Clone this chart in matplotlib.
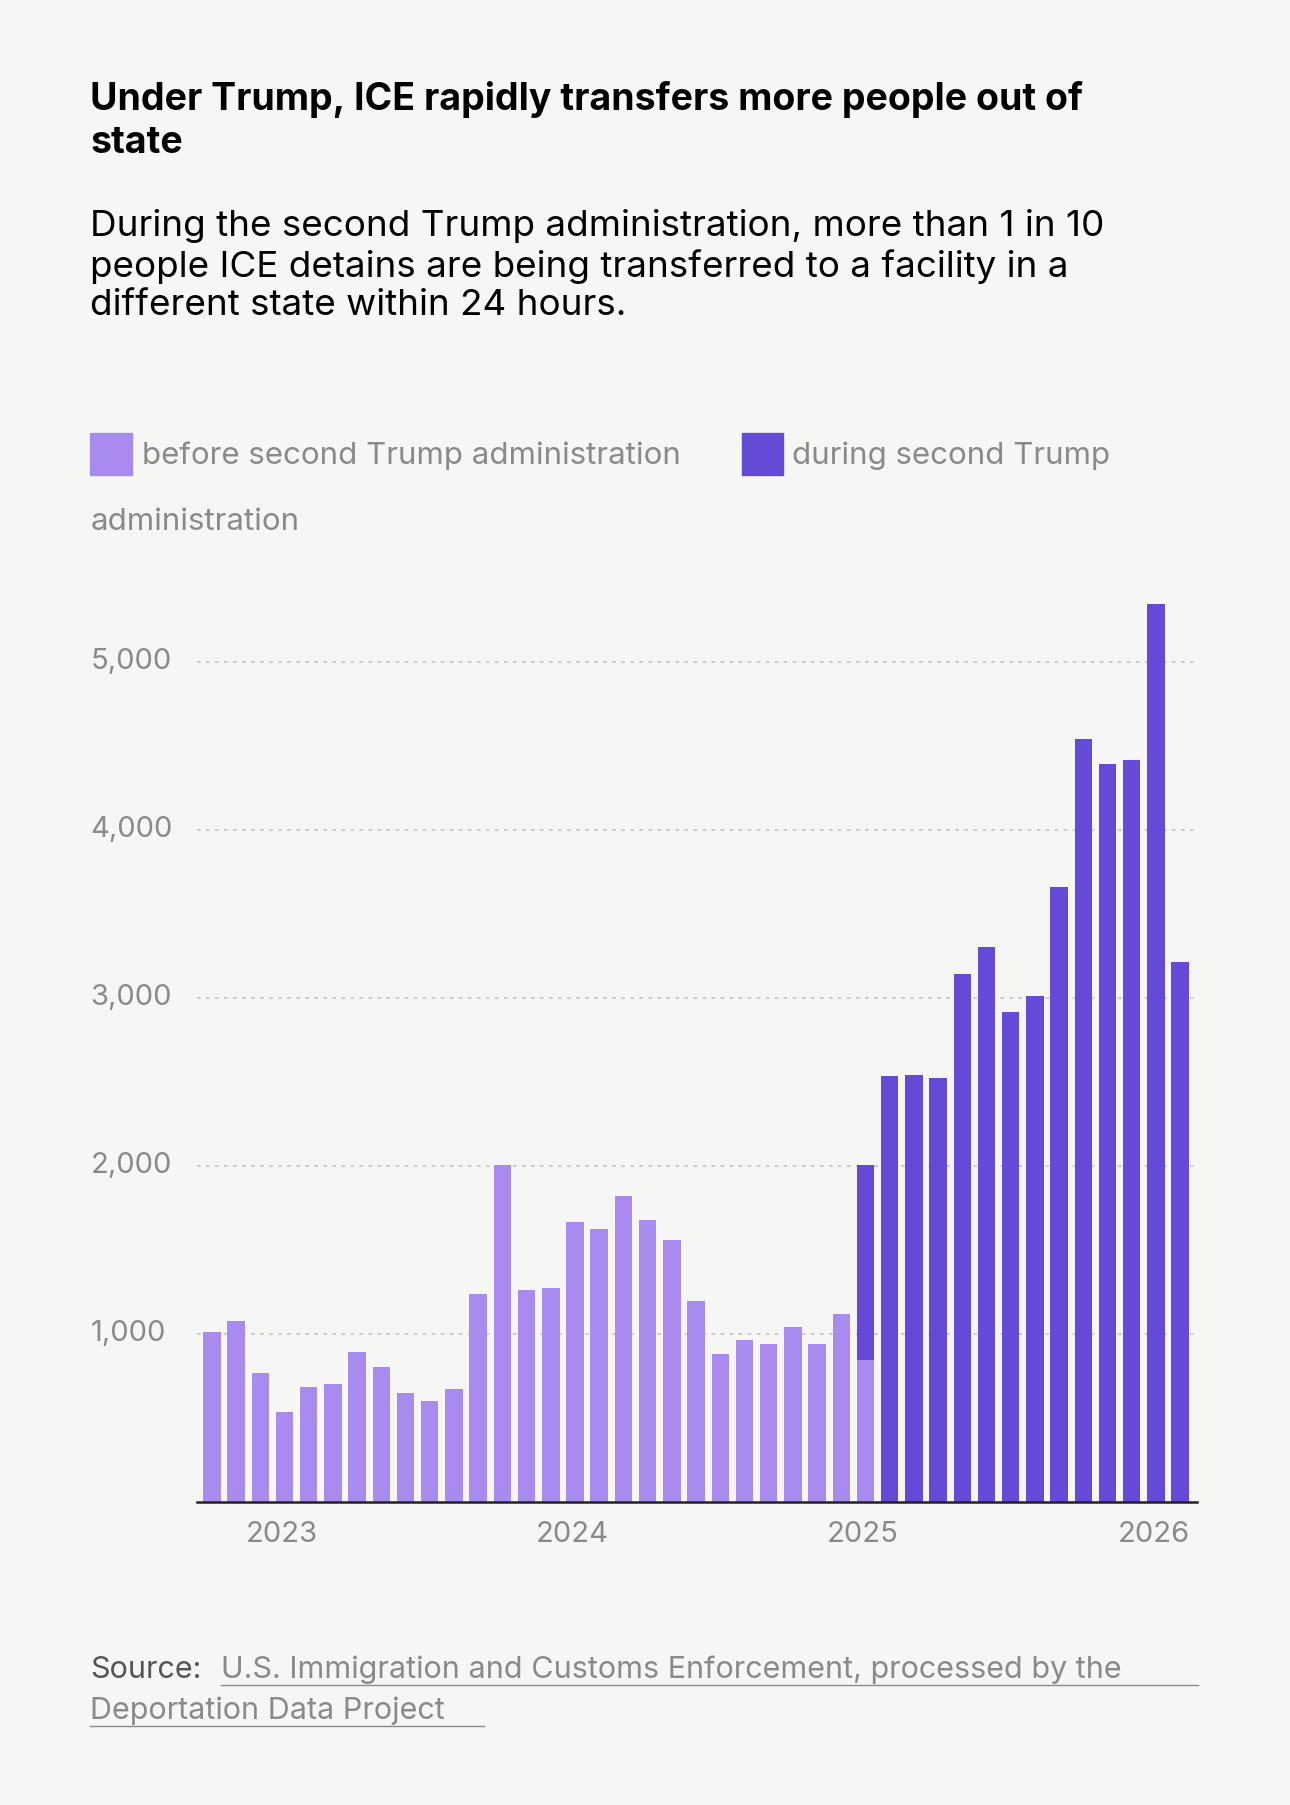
import numpy as np
import matplotlib.pyplot as plt
import matplotlib.transforms as mtransforms

plt.rcParams['font.family'] = ['Inter', 'DejaVu Sans']

# monthly counts, Oct 2022 .. Feb 2026
before = [1010, 1075, 766, 534, 684, 698, 889, 800, 650, 602, 670, 1238,
          2004, 1258, 1272, 1662, 1621, 1819, 1676, 1560, 1197, 882, 964,
          937, 1040, 937, 1115, 841]
during = [0] * 27 + [1163, 2531, 2538, 2524, 3140, 3304, 2914, 3010, 3660,
                     4542, 4391, 4412, 5342, 3215]
before = before + [0] * (len(during) - len(before))
year_ticks = [3, 15, 27, 39]
year_labels = ['2023', '2024', '2025', '2026']
y_ticks = [1000, 2000, 3000, 4000, 5000]
y_labels = ['1,000', '2,000', '3,000', '4,000', '5,000']

light = '#a98bf0'
dark = '#654ad7'
bg = '#f6f6f4'
grey = '#8a8a8a'

fig = plt.figure(figsize=(12.9, 18.05), dpi=100, facecolor=bg)
ax = fig.add_axes([0.153, 0.168, 0.775, 0.512], facecolor=bg)

x = np.arange(len(during))
ax.bar(x, before, width=0.72, color=light, zorder=3)
ax.bar(x, during, bottom=before, width=0.72, color=dark, zorder=3)

ax.set_xlim(-0.6, len(x) - 0.3)
ax.set_ylim(0, 5500)
for v in y_ticks:
    ax.axhline(v, color='#c8c8c8', ls=(0, (2, 3)), lw=1.3, zorder=1)
ax.set_yticks([])
tr = mtransforms.blended_transform_factory(fig.transFigure, ax.transData)
for v, lab in zip(y_ticks, y_labels):
    ax.text(0.07, v, lab, transform=tr, ha='left', va='center', fontsize=21, color=grey)

ax.set_xticks([t - 0.1 for t in year_ticks])
ax.set_xticklabels(year_labels, fontsize=21, color=grey)
ax.tick_params(axis='x', length=0, pad=14)
for s in ['top', 'right', 'left']:
    ax.spines[s].set_visible(False)
ax.spines['bottom'].set_color('#222222')
ax.spines['bottom'].set_linewidth(1.8)
ax.spines['bottom'].set_zorder(4)

fig.text(0.07, 0.955, 'Under Trump, ICE rapidly transfers more people out of\nstate',
         fontsize=27, fontweight='bold', va='top', linespacing=1.25)
fig.text(0.07, 0.884, 'During the second Trump administration, more than 1 in 10\n'
         'people ICE detains are being transferred to a facility in a\n'
         'different state within 24 hours.', fontsize=26.5, va='top', linespacing=1.2)

# legend
fig.patches.append(plt.Rectangle((0.07, 0.737), 0.032, 0.023, color=light, transform=fig.transFigure))
fig.text(0.11, 0.7475, 'before second Trump administration', fontsize=22.5, color=grey, va='center')
fig.patches.append(plt.Rectangle((0.575, 0.737), 0.032, 0.023, color=dark, transform=fig.transFigure))
fig.text(0.614, 0.7475, 'during second Trump', fontsize=22.5, color=grey, va='center')
fig.text(0.07, 0.711, 'administration', fontsize=22.5, color=grey, va='center')

fig.text(0.07, 0.075, 'Source:', fontsize=22, color='#555555', va='center')
fig.text(0.171, 0.075, 'U.S. Immigration and Customs Enforcement, processed by the',
         fontsize=22, color=grey, va='center')
fig.text(0.07, 0.052, 'Deportation Data Project', fontsize=22, color=grey, va='center')
fig.add_artist(plt.Line2D([0.171, 0.929], [0.0665, 0.0665], color=grey, lw=1, transform=fig.transFigure))
fig.add_artist(plt.Line2D([0.07, 0.375], [0.0435, 0.0435], color=grey, lw=1, transform=fig.transFigure))

fig.savefig('out.png', dpi=100, facecolor=bg)
